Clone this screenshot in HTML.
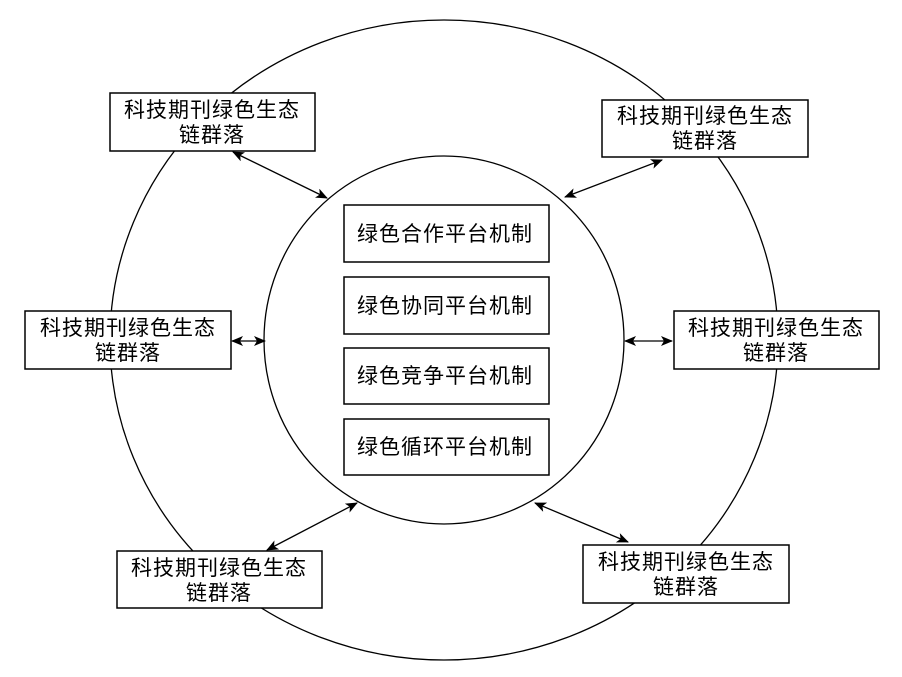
<!DOCTYPE html>
<html><head><meta charset="utf-8"><style>
html,body{margin:0;padding:0;background:#fff;}
svg{display:block;}
text{font-family:"Liberation Sans","Noto Sans CJK SC",sans-serif;font-size:21px;fill:#000;letter-spacing:1px;}
</style></head><body>
<svg width="902" height="677" viewBox="0 0 902 677" xmlns="http://www.w3.org/2000/svg">
<defs>
<marker id="a" markerWidth="12" markerHeight="10" refX="11" refY="5" orient="auto-start-reverse" markerUnits="userSpaceOnUse">
<path d="M0,0 L12,5 L0,10 L3,5 Z" fill="#000"/>
</marker>
</defs>
<ellipse cx="444" cy="340" rx="334" ry="320" fill="none" stroke="#000" stroke-width="1.3"/>
<ellipse cx="444" cy="340" rx="180" ry="184" fill="none" stroke="#000" stroke-width="1.3"/>
<g fill="#fff" stroke="#000" stroke-width="1.5">
<rect x="110" y="93" width="205" height="58"/>
<rect x="602" y="100" width="206" height="57"/>
<rect x="25" y="311" width="206" height="58"/>
<rect x="674" y="311" width="205" height="58"/>
<rect x="117" y="551" width="205" height="57"/>
<rect x="583" y="545" width="206" height="58"/>
<rect x="344" y="205" width="205" height="57"/>
<rect x="344" y="277" width="205" height="57"/>
<rect x="344" y="348" width="205" height="56"/>
<rect x="344" y="419" width="205" height="56"/>
</g>
<g stroke="#000" stroke-width="1.3" marker-start="url(#a)" marker-end="url(#a)">
<line x1="233" y1="152" x2="327" y2="198"/>
<line x1="565" y1="197" x2="662" y2="160"/>
<line x1="232" y1="341" x2="265" y2="341"/>
<line x1="625" y1="341" x2="672" y2="341"/>
<line x1="267" y1="550" x2="357" y2="503"/>
<line x1="535" y1="503" x2="628" y2="542"/>
</g>
<g text-anchor="middle">
<text x="212" y="117">科技期刊绿色生态</text><text x="212" y="142">链群落</text>
<text x="705" y="123">科技期刊绿色生态</text><text x="705" y="148">链群落</text>
<text x="128" y="335">科技期刊绿色生态</text><text x="128" y="360">链群落</text>
<text x="776" y="335">科技期刊绿色生态</text><text x="776" y="360">链群落</text>
<text x="219" y="575">科技期刊绿色生态</text><text x="219" y="600">链群落</text>
<text x="686" y="569">科技期刊绿色生态</text><text x="686" y="594">链群落</text>
</g>
<g>
<text x="357" y="241">绿色合作平台机制</text>
<text x="357" y="313">绿色协同平台机制</text>
<text x="357" y="383">绿色竞争平台机制</text>
<text x="357" y="454">绿色循环平台机制</text>
</g>
</svg>
</body></html>
